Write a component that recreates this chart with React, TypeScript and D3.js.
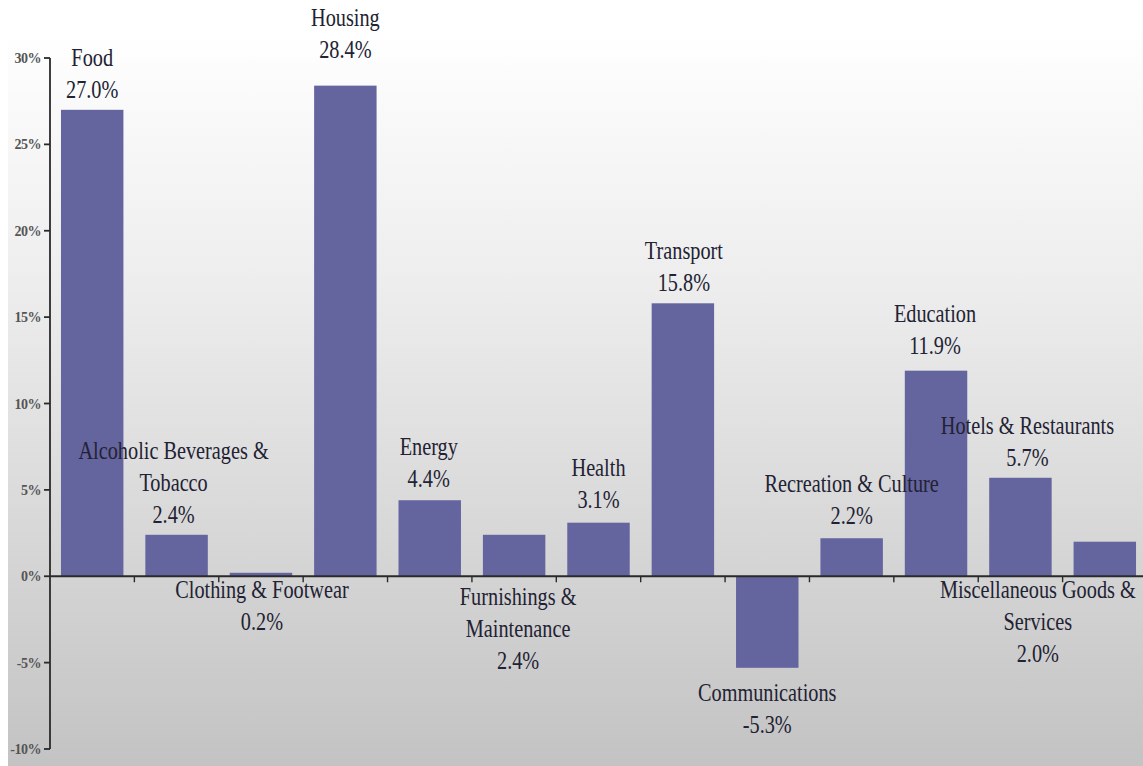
import React from "react";
import * as d3 from "d3";

// ---- data ----
const categories: string[] = [
  "Food",
  "Alcoholic Beverages & Tobacco",
  "Clothing & Footwear",
  "Housing",
  "Energy",
  "Furnishings & Maintenance",
  "Health",
  "Transport",
  "Communications",
  "Recreation & Culture",
  "Education",
  "Hotels & Restaurants",
  "Miscellaneous Goods & Services",
];
const labelLines: string[][] = [
  ["Food"],
  ["Alcoholic Beverages &", "Tobacco"],
  ["Clothing & Footwear"],
  ["Housing"],
  ["Energy"],
  ["Furnishings &", "Maintenance"],
  ["Health"],
  ["Transport"],
  ["Communications"],
  ["Recreation & Culture"],
  ["Education"],
  ["Hotels & Restaurants"],
  ["Miscellaneous Goods &", "Services"],
];
const values: number[] = [27.0, 2.4, 0.2, 28.4, 4.4, 2.4, 3.1, 15.8, -5.3, 2.2, 11.9, 5.7, 2.0];
const yTicks: number[] = [30, 25, 20, 15, 10, 5, 0, -5, -10];

// ---- label layout (placement only) ----
const labelSide: ("above" | "below")[] = [
  "above", "above", "below", "above", "above", "below", "above",
  "above", "below", "above", "above", "above", "below",
];
const labelGap: number[] = [12, 12, 5, 28, 13, 12, 15, 12, 16, 14, 17, 12, 5];
const labelDx: number[] = [0, -3, 1, 0, -1, 4, 0, 1, 0, 0, -1, 7, -67];

const W = 1143;
const H = 766;
const LINE = 32;
const SX = 0.78;

export default function App() {
  const x = d3
    .scaleBand<string>()
    .domain(categories)
    .range([50, 1147])
    .paddingInner(0.26)
    .paddingOuter(0.13);
  const y = d3.scaleLinear().domain([-10, 30]).range([749, 58]);
  const step = x.step();
  const y0 = y(0);
  const bounds = d3.range(1, categories.length).map((k) => 50 + k * step);
  const fmt = (v: number) => `${v.toFixed(1)}%`;

  return (
    <svg
      width={W}
      height={H}
      style={{ position: "absolute", left: 0, top: 0, display: "block" }}
      fontFamily="'Liberation Serif', 'Times New Roman', serif"
    >
      <defs>
        <linearGradient id="bg" x1="0" y1="0" x2="0" y2="1">
          <stop offset="0" stopColor="#ffffff" />
          <stop offset="0.35" stopColor="#ededed" />
          <stop offset="1" stopColor="#c3c3c3" />
        </linearGradient>
      </defs>
      <rect x={0} y={0} width={W} height={H} fill="#ffffff" />
      <rect x={8} y={28} width={W - 8} height={H - 28} fill="url(#bg)" />

      {/* bars */}
      {categories.map((c, i) => {
        const v = values[i];
        const top = y(Math.max(v, 0));
        const bot = y(Math.min(v, 0));
        return (
          <rect
            key={c}
            x={x(c)}
            y={top}
            width={x.bandwidth()}
            height={Math.max(bot - top, 1)}
            fill="#64649f"
          />
        );
      })}

      {/* y axis */}
      <line x1={50} x2={50} y1={y(30)} y2={y(-10)} stroke="#2a2a2a" strokeWidth={1.8} />
      {yTicks.map((t) => (
        <g key={t}>
          <line x1={44} x2={50} y1={y(t)} y2={y(t)} stroke="#2a2a2a" strokeWidth={1.8} />
          <text
            x={41}
            y={y(t) + 5}
            textAnchor="end"
            fontSize={14}
            fontWeight="bold"
            fill="#555"
            letterSpacing={-0.5}
          >
            {`${t}%`}
          </text>
        </g>
      ))}

      {/* x axis */}
      <line x1={50} x2={W} y1={y0} y2={y0} stroke="#2a2a2a" strokeWidth={1.8} />
      {bounds.map((b, k) => (
        <line key={k} x1={b} x2={b} y1={y0} y2={y0 + 6} stroke="#2a2a2a" strokeWidth={1.4} />
      ))}

      {/* labels */}
      {categories.map((c, i) => {
        const v = values[i];
        const lines = [...labelLines[i], fmt(v)];
        const cx = (x(c) as number) + x.bandwidth() / 2 + labelDx[i];
        let firstBase: number;
        if (labelSide[i] === "above") {
          const lastBase = y(Math.max(v, 0)) - labelGap[i];
          firstBase = lastBase - (lines.length - 1) * LINE;
        } else {
          firstBase = y(Math.min(v, 0)) + labelGap[i] + 17;
        }
        return (
          <g key={c}>
            {lines.map((t, j) => (
              <text
                key={j}
                transform={`translate(${cx},${firstBase + j * LINE}) scale(${SX},1)`}
                textAnchor="middle"
                fontSize={26}
                fill="#222233"
              >
                {t}
              </text>
            ))}
          </g>
        );
      })}
    </svg>
  );
}
